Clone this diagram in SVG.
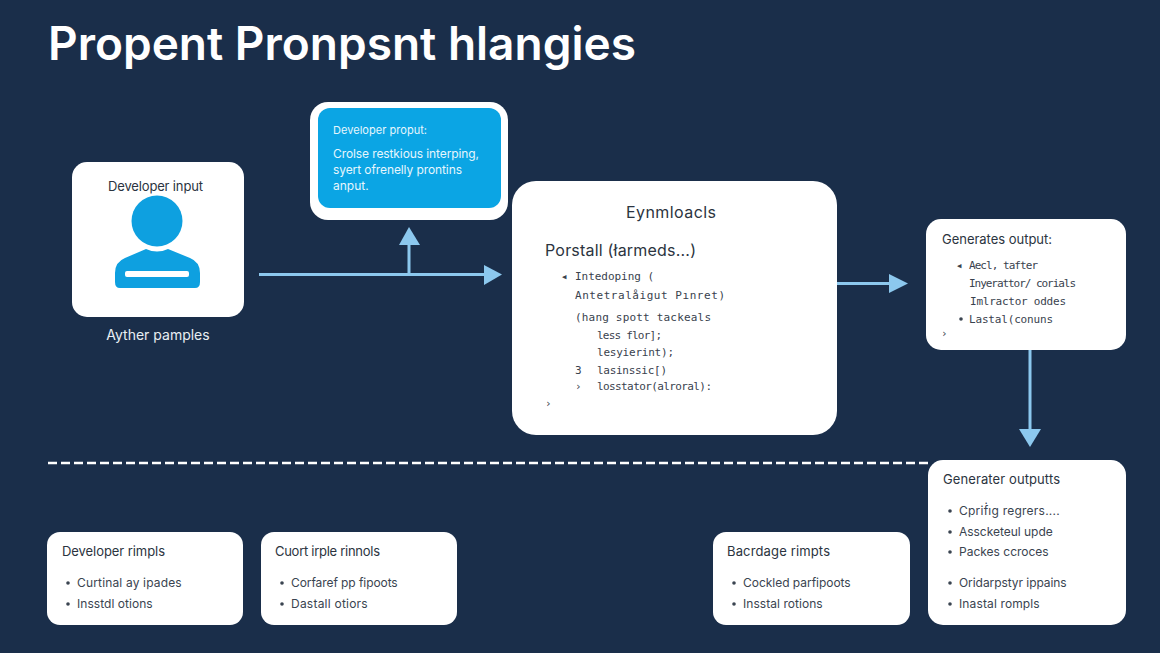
<svg xmlns="http://www.w3.org/2000/svg" width="1160" height="653" viewBox="0 0 1160 653">
<style>
text{font-family:"Inter","Noto Sans","Liberation Sans",sans-serif;fill:#2b3440}
.card{fill:#fff}
.m{font-family:"DejaVu Sans Mono","Liberation Mono",monospace;font-size:11px;fill:#39424e}
.h{font-size:13px;fill:#2b3440}
.b{font-size:12px;fill:#3a4450;letter-spacing:.3px}
.w{fill:#e6f6fd}
.ln{stroke:#8cc8ee;stroke-width:3;fill:none}
.ah{fill:#8cc8ee}
.d{fill:#3a4450}
</style>
<rect width="1160" height="653" fill="#1a2e4a"/>
<text x="48" y="60" font-size="46" font-weight="600" textLength="588" style="fill:#fff">Propent Pronpsnt hlangies</text>
<g id="connectors">
<path class="ln" d="M259 274.500H486"/><polygon class="ah" points="484,265 502,274.500 484,285"/>
<path class="ln" d="M409 274V243"/><polygon class="ah" points="399,245 409,227 420,245"/>
<path class="ln" d="M836 283.500H892"/><polygon class="ah" points="889,274 908,283.500 889,293"/>
<path class="ln" d="M1030 349V431"/><polygon class="ah" points="1019,429 1030,447 1041,429"/>
<path d="M48 463H930" stroke="#fff" stroke-width="2.500" stroke-dasharray="9 4" fill="none"/>
</g>
<g id="developer-input">
<rect class="card" x="72" y="162" width="172" height="155" rx="15"/>
<text x="108" y="191" font-size="13" textLength="95">Developer input</text>
<circle cx="157" cy="221" r="25.500" fill="#0ea0e0"/>
<path d="M115 282V273Q115 262 125 258L146 249Q157 254 168 249L190 258Q200 262 200 273V282Q200 288 195 288H120Q115 288 115 282Z" fill="#0ea0e0"/>
<rect x="125" y="271" width="64" height="6" rx="2" fill="#fff"/>
<text x="158" y="340" font-size="14" text-anchor="middle" style="fill:#e9eef3">Ayther pamples</text>
</g>
<g id="developer-prompt">
<rect class="card" x="310" y="102" width="198" height="118" rx="18"/>
<rect x="318" y="108" width="183" height="100" rx="12" fill="#0ba5e4"/>
<text class="w" x="333" y="134" font-size="11" textLength="94">Developer proput:</text>
<text class="w" x="333" y="158" font-size="12" textLength="146">Crolse restkious interping,</text>
<text class="w" x="333" y="174" font-size="12" textLength="129">syert ofrenelly prontins</text>
<text class="w" x="333" y="190" font-size="12">anput.</text>
</g>
<g id="main-card">
<rect class="card" x="512" y="181" width="325" height="254" rx="24"/>
<text x="626" y="218" font-size="16" textLength="90">Eynmloacls</text>
<text x="545" y="256" font-size="16" textLength="151">Porstall (łarmeds...)</text>
<text class="m" x="561" y="280">◂</text><text class="m" x="575" y="280" textLength="79">Intedoping (</text>
<text class="m" x="575" y="299" textLength="150">Antetralåigut Pınret)</text>
<text class="m" x="575" y="321" textLength="136">(hang spott tackeals</text>
<text class="m" x="597" y="339" textLength="65">less flor];</text>
<text class="m" x="597" y="356" textLength="77">lesyierint);</text>
<text class="m" x="575" y="374">3</text><text class="m" x="597" y="374" textLength="70">lasinssic[)</text>
<text class="m" x="575" y="390">›</text><text class="m" x="597" y="390" textLength="115">losstator(alroral):</text>
<text class="m" x="545" y="407">›</text>
</g>
<g id="generates-output">
<rect class="card" x="926" y="219" width="200" height="131" rx="15"/>
<text class="h" x="942" y="244" textLength="110">Generates output:</text>
<text class="m" x="956" y="269">◂</text><text class="m" x="969" y="269" textLength="69">Aecl, tafter</text>
<text class="m" x="969" y="287" textLength="107">Inyerattor/ corials</text>
<text class="m" x="970" y="305" textLength="96">Imlractor oddes</text>
<circle class="d" cx="961" cy="319" r="1.800"/><text class="m" x="969" y="323" textLength="84">Lastal(conuns</text>
<text class="m" x="941" y="337">›</text>
</g>
<g id="generator-outputs">
<rect class="card" x="928" y="460" width="198" height="165" rx="15"/>
<text class="h" x="943" y="484" textLength="117">Generater outputts</text>
<text class="b" x="959" y="515" textLength="101">Cpriḟıg regrers....</text><circle class="d" cx="950" cy="511" r="1.800"/>
<text class="b" x="959" y="536" textLength="94">Asscketeul upde</text><circle class="d" cx="950" cy="532" r="1.800"/>
<text class="b" x="959" y="556" textLength="90">Packes ccroces</text><circle class="d" cx="950" cy="552" r="1.800"/>
<text class="b" x="959" y="587" textLength="108">Oridarpstyr ippains</text><circle class="d" cx="950" cy="583" r="1.800"/>
<text class="b" x="959" y="608" textLength="81">Inastal rompls</text><circle class="d" cx="950" cy="604" r="1.800"/>
</g>
<g id="developer-rimpls">
<rect class="card" x="47" y="532" width="196" height="93" rx="13"/>
<text class="h" x="62" y="556" textLength="103">Developer rimpls</text>
<text class="b" x="77" y="587" textLength="105">Curtinal ay ipades</text><circle class="d" cx="68" cy="583" r="1.800"/>
<text class="b" x="77" y="608" textLength="76">Insstdl otions</text><circle class="d" cx="68" cy="604" r="1.800"/>
</g>
<g id="cuort-irple">
<rect class="card" x="261" y="532" width="196" height="93" rx="13"/>
<text class="h" x="275" y="556" textLength="105">Cuort irple rinnols</text>
<text class="b" x="291" y="587" textLength="107">Corfaref pp fipoots</text><circle class="d" cx="282" cy="583" r="1.800"/>
<text class="b" x="291" y="608" textLength="77">Dastall otiors</text><circle class="d" cx="282" cy="604" r="1.800"/>
</g>
<g id="bacrdage-rimpts">
<rect class="card" x="713" y="532" width="197" height="93" rx="13"/>
<text class="h" x="727" y="556" textLength="103">Bacrdage rimpts</text>
<text class="b" x="743" y="587" textLength="108">Cockled parfipoots</text><circle class="d" cx="734" cy="583" r="1.800"/>
<text class="b" x="743" y="608" textLength="80">Insstal rotions</text><circle class="d" cx="734" cy="604" r="1.800"/>
</g>
</svg>
